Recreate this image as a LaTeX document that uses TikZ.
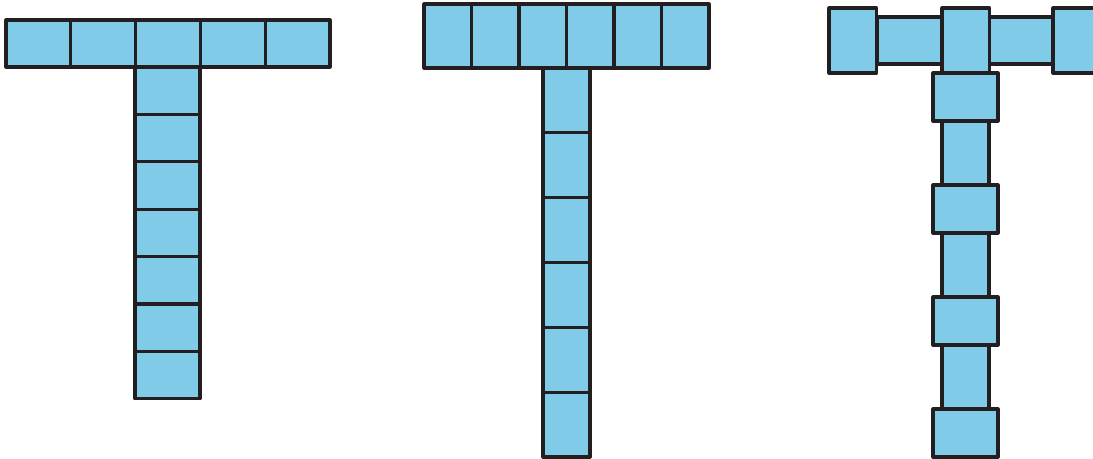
\documentclass[tikz,border=0pt]{standalone}
\usepackage{tikz}
\definecolor{cellblue}{RGB}{128,203,232}
\definecolor{celledge}{RGB}{35,31,32}
\tikzset{
  cell/.style={draw=celledge, fill=cellblue, line width=1.75pt, line join=round}
}
\begin{document}
\begin{tikzpicture}[x=0.02cm, y=-0.02cm]
  \useasboundingbox (0,0) rectangle (1093,459);
  % -- left T: 5 wide cells on top, 7 in the stem --
  \foreach \i in {0,...,4}
    \draw[cell] ({6+64.8*\i},20) rectangle ({6+64.8*(\i+1)},67);
  \foreach \j in {0,...,6}
    \draw[cell] (135,{67+47.4*\j}) rectangle (200,{67+47.4*(\j+1)});
  % -- middle T: 6 tall cells on top, 6 in the stem --
  \foreach \i in {0,...,5}
    \draw[cell] ({424+47.5*\i},4) rectangle ({424+47.5*(\i+1)},68);
  \foreach \j in {0,...,5}
    \draw[cell] (543,{68+64.83*\j}) rectangle (590,{68+64.83*(\j+1)});
  % -- right T: alternating cells --
  \draw[cell] (877,17) rectangle (942,64);
  \draw[cell] (989,17) rectangle (1053,64);
  \foreach \x in {829,942,1053}
    \draw[cell] (\x,8) rectangle (\x+47.5,73);
  \foreach \j in {0,...,2}
    \draw[cell] (942,{121+112*\j}) rectangle (989,{185+112*\j});
  \foreach \j in {0,...,3}
    \draw[cell] (933,{73+112*\j}) rectangle (998,{121+112*\j});
\end{tikzpicture}
\end{document}
